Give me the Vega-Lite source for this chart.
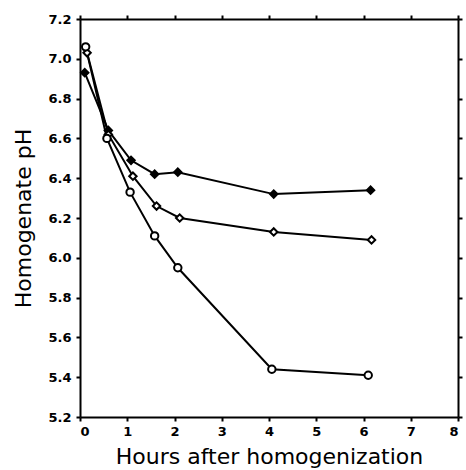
{
  "$schema": "https://vega.github.io/schema/vega-lite/v6.json",
  "autosize": "none",
  "padding": {"left": 80, "top": 19, "right": 8, "bottom": 53},
  "width": 378,
  "height": 398,
  "background": "white",
  "config": {
    "view": {"stroke": null},
    "axis": {
      "domainColor": "black", "domainWidth": 2, "tickColor": "black", "tickWidth": 2, "tickSize": 4,
      "grid": false, "labelColor": "black", "labelFont": "DejaVu Sans", "labelFontWeight": "bold", "labelFontSize": 13,
      "titleColor": "black", "titleFont": "DejaVu Sans", "titleFontWeight": "normal", "titleFontSize": 22
    }
  },
  "data": {
    "values": [
      {"series": "A", "hours": 0.1, "ph": 6.93},
      {"series": "A", "hours": 0.6, "ph": 6.64},
      {"series": "A", "hours": 1.08, "ph": 6.49},
      {"series": "A", "hours": 1.58, "ph": 6.42},
      {"series": "A", "hours": 2.07, "ph": 6.43},
      {"series": "A", "hours": 4.1, "ph": 6.32},
      {"series": "A", "hours": 6.15, "ph": 6.34},
      {"series": "B", "hours": 0.15, "ph": 7.03},
      {"series": "B", "hours": 0.6, "ph": 6.62},
      {"series": "B", "hours": 1.12, "ph": 6.41},
      {"series": "B", "hours": 1.62, "ph": 6.26},
      {"series": "B", "hours": 2.11, "ph": 6.2},
      {"series": "B", "hours": 4.1, "ph": 6.13},
      {"series": "B", "hours": 6.17, "ph": 6.09},
      {"series": "C", "hours": 0.12, "ph": 7.06},
      {"series": "C", "hours": 0.57, "ph": 6.6},
      {"series": "C", "hours": 1.06, "ph": 6.33},
      {"series": "C", "hours": 1.58, "ph": 6.11},
      {"series": "C", "hours": 2.07, "ph": 5.95},
      {"series": "C", "hours": 4.06, "ph": 5.44},
      {"series": "C", "hours": 6.1, "ph": 5.41}
    ]
  },
  "resolve": {"axis": {"x": "independent", "y": "independent"}},
  "layer": [
    {
      "mark": {"type": "line", "color": "black", "strokeWidth": 2},
      "encoding": {
        "x": {"field": "hours", "type": "quantitative", "scale": {"domain": [0, 8], "nice": false},
              "axis": {"title": "Hours after homogenization", "values": [0,1,2,3,4,5,6,7,8], "titlePadding": 8, "labelPadding": 4}},
        "y": {"field": "ph", "type": "quantitative", "scale": {"domain": [5.2, 7.2], "nice": false, "zero": false},
              "axis": {"title": "Homogenate pH", "values": [5.2,5.4,5.6,5.8,6.0,6.2,6.4,6.6,6.8,7.0,7.2], "format": ".1f", "titlePadding": 12, "labelPadding": 5}},
        "detail": {"field": "series"}
      }
    },
    {
      "mark": {"type": "point", "filled": false, "stroke": "black", "strokeWidth": 2, "opacity": 1},
      "encoding": {
        "x": {"field": "hours", "type": "quantitative",
              "axis": {"orient": "top", "title": null, "labels": false, "values": [0,1,2,3,4,5,6,7,8]}},
        "y": {"field": "ph", "type": "quantitative",
              "axis": {"orient": "right", "title": null, "labels": false, "values": [5.2,5.4,5.6,5.8,6.0,6.2,6.4,6.6,6.8,7.0,7.2]}},
        "shape": {"field": "series", "type": "nominal", "scale": {"domain": ["A","B","C"], "range": ["diamond","diamond","circle"]}, "legend": null},
        "fill": {"field": "series", "type": "nominal", "scale": {"domain": ["A","B","C"], "range": ["black","white","white"]}, "legend": null},
        "size": {"field": "series", "type": "nominal", "scale": {"domain": ["A","B","C"], "range": [55, 55, 85]}, "legend": null}
      }
    }
  ]
}
